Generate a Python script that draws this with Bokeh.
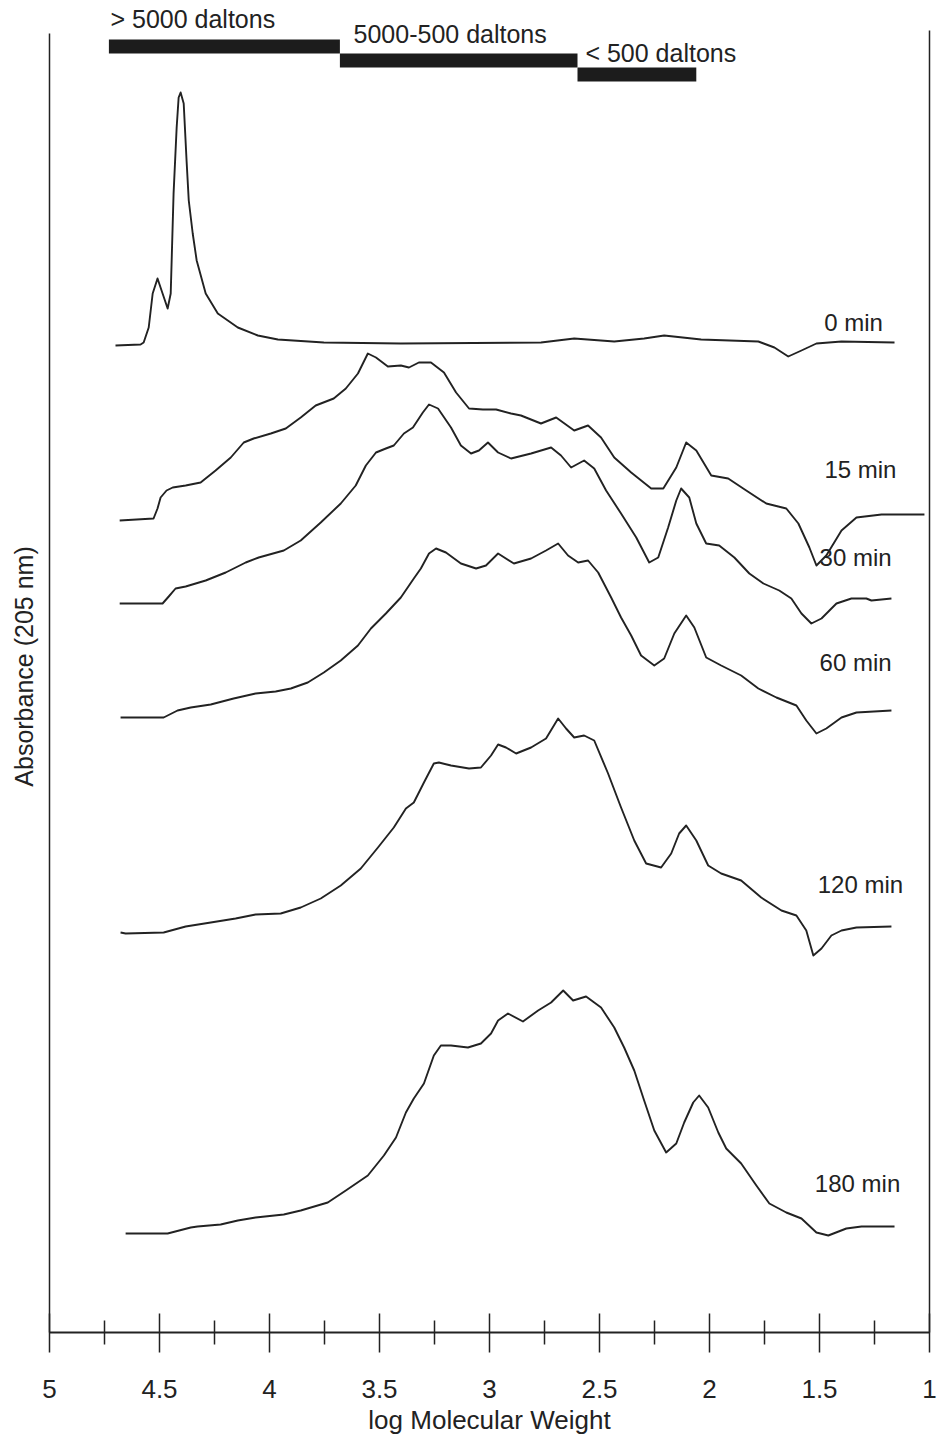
from bokeh.plotting import figure
from bokeh.models import (Range1d, LinearAxis, FixedTicker, CustomJSTickFormatter,
                          Label, ColumnDataSource)
from bokeh.core.properties import value
from bokeh.embed import file_html
from bokeh.resources import INLINE

# ---------------- data ----------------
x_ticks = [5, 4.5, 4, 3.5, 3, 2.5, 2, 1.5, 1]
x_minor_ticks = [4.75, 4.25, 3.75, 3.25, 2.75, 2.25, 1.75, 1.25]

size_classes = ["> 5000 daltons", "5000-500 daltons", "< 500 daltons"]
class_from = [4.73, 3.68, 2.60]
class_to = [3.68, 2.60, 2.06]

times = ["0 min", "15 min", "30 min", "60 min", "120 min", "180 min"]

logmw_0min = [4.700, 4.586, 4.572, 4.549, 4.531, 4.509, 4.486, 4.463, 4.449, 4.436,
              4.422, 4.413, 4.404, 4.390, 4.377, 4.367, 4.349, 4.331, 4.290, 4.235,
              4.144, 4.053, 3.962, 3.753, 3.403, 2.766, 2.615, 2.433, 2.297, 2.206,
              2.038, 1.778, 1.705, 1.642, 1.582, 1.514, 1.400, 1.159]
abs_0min = [-0.01, 0.00, 0.02, 0.17, 0.51, 0.66, 0.51, 0.36, 0.51, 1.51,
            2.17, 2.47, 2.52, 2.41, 1.84, 1.44, 1.11, 0.84, 0.51, 0.31,
            0.17, 0.09, 0.05, 0.02, 0.01, 0.02, 0.06, 0.03, 0.06, 0.09,
            0.05, 0.03, -0.03, -0.12, -0.06, 0.01, 0.03, 0.02]

logmw_15min = [4.681, 4.527, 4.509, 4.495, 4.468, 4.440, 4.381, 4.313, 4.245, 4.176,
               4.117, 4.072, 3.994, 3.926, 3.858, 3.790, 3.708, 3.653, 3.598, 3.553,
               3.516, 3.462, 3.403, 3.366, 3.321, 3.266, 3.207, 3.152, 3.093, 3.030,
               2.970, 2.902, 2.857, 2.766, 2.697, 2.615, 2.552, 2.493, 2.433, 2.356,
               2.265, 2.210, 2.151, 2.106, 2.060, 1.992, 1.915, 1.833, 1.742, 1.651,
               1.596, 1.546, 1.514, 1.469, 1.400, 1.332, 1.218, 1.023]
abs_15min = [0.00, 0.02, 0.12, 0.23, 0.30, 0.33, 0.35, 0.38, 0.50, 0.63,
             0.78, 0.82, 0.87, 0.92, 1.03, 1.15, 1.22, 1.32, 1.47, 1.67,
             1.63, 1.54, 1.55, 1.53, 1.58, 1.58, 1.48, 1.28, 1.12, 1.11,
             1.11, 1.07, 1.05, 0.97, 1.03, 0.90, 0.95, 0.83, 0.63, 0.48,
             0.32, 0.32, 0.53, 0.78, 0.70, 0.45, 0.42, 0.30, 0.17, 0.12,
             -0.03, -0.27, -0.45, -0.35, -0.10, 0.03, 0.06, 0.06]

logmw_30min = [4.681, 4.486, 4.458, 4.427, 4.381, 4.290, 4.199, 4.108, 4.049, 3.935,
               3.858, 3.767, 3.676, 3.608, 3.562, 3.516, 3.471, 3.435, 3.389, 3.348,
               3.303, 3.275, 3.234, 3.175, 3.130, 3.084, 3.048, 3.007, 2.961, 2.902,
               2.811, 2.720, 2.675, 2.629, 2.570, 2.524, 2.470, 2.402, 2.333, 2.274,
               2.233, 2.188, 2.151, 2.129, 2.092, 2.060, 2.015, 1.956, 1.887, 1.819,
               1.755, 1.683, 1.628, 1.582, 1.537, 1.491, 1.423, 1.355, 1.287, 1.264,
               1.218, 1.173]
abs_30min = [0.00, 0.00, 0.07, 0.15, 0.17, 0.23, 0.31, 0.41, 0.46, 0.53,
             0.63, 0.81, 1.00, 1.18, 1.38, 1.51, 1.55, 1.58, 1.70, 1.76,
             1.91, 1.99, 1.95, 1.76, 1.58, 1.50, 1.53, 1.61, 1.51, 1.45,
             1.50, 1.56, 1.48, 1.36, 1.43, 1.35, 1.13, 0.90, 0.66, 0.41,
             0.46, 0.76, 1.03, 1.15, 1.06, 0.80, 0.60, 0.58, 0.46, 0.30,
             0.20, 0.13, 0.05, -0.10, -0.20, -0.15, 0.00, 0.05, 0.05, 0.03,
             0.04, 0.05]

logmw_60min = [4.677, 4.481, 4.418, 4.358, 4.267, 4.163, 4.063, 3.972, 3.903, 3.826,
               3.753, 3.676, 3.598, 3.539, 3.471, 3.403, 3.344, 3.312, 3.275, 3.243,
               3.198, 3.130, 3.061, 3.016, 2.961, 2.889, 2.811, 2.743, 2.688, 2.643,
               2.597, 2.552, 2.506, 2.447, 2.402, 2.356, 2.311, 2.251, 2.206, 2.160,
               2.106, 2.069, 2.015, 1.947, 1.856, 1.778, 1.696, 1.605, 1.560, 1.514,
               1.469, 1.400, 1.332, 1.173]
abs_60min = [0.00, 0.00, 0.07, 0.10, 0.13, 0.19, 0.24, 0.26, 0.29, 0.35,
             0.45, 0.57, 0.72, 0.89, 1.04, 1.20, 1.39, 1.49, 1.64, 1.69,
             1.65, 1.54, 1.49, 1.52, 1.64, 1.54, 1.59, 1.67, 1.74, 1.62,
             1.55, 1.57, 1.45, 1.20, 1.00, 0.82, 0.62, 0.52, 0.59, 0.84,
             1.02, 0.90, 0.60, 0.52, 0.42, 0.29, 0.20, 0.12, -0.03, -0.16,
             -0.11, 0.00, 0.05, 0.07]

logmw_120min = [4.677, 4.654, 4.481, 4.381, 4.267, 4.154, 4.063, 3.949, 3.858, 3.767,
                3.676, 3.585, 3.507, 3.435, 3.380, 3.344, 3.298, 3.253, 3.230, 3.175,
                3.093, 3.039, 2.993, 2.961, 2.925, 2.879, 2.811, 2.743, 2.688, 2.652,
                2.615, 2.570, 2.524, 2.461, 2.402, 2.342, 2.288, 2.220, 2.174, 2.138,
                2.106, 2.060, 2.006, 1.947, 1.856, 1.765, 1.673, 1.605, 1.560, 1.528,
                1.491, 1.446, 1.400, 1.332, 1.173]
abs_120min = [0.00, -0.01, 0.00, 0.06, 0.10, 0.14, 0.18, 0.19, 0.25, 0.34,
              0.47, 0.64, 0.85, 1.05, 1.24, 1.30, 1.50, 1.69, 1.70, 1.67,
              1.64, 1.65, 1.77, 1.88, 1.85, 1.79, 1.85, 1.94, 2.14, 2.04,
              1.95, 1.97, 1.92, 1.59, 1.25, 0.92, 0.69, 0.65, 0.79, 0.99,
              1.07, 0.92, 0.67, 0.59, 0.52, 0.35, 0.22, 0.17, 0.02, -0.23,
              -0.16, -0.03, 0.02, 0.05, 0.06]

logmw_180min = [4.654, 4.463, 4.358, 4.327, 4.222, 4.144, 4.063, 3.935, 3.858, 3.735,
                3.653, 3.553, 3.480, 3.425, 3.380, 3.344, 3.298, 3.253, 3.221, 3.175,
                3.098, 3.039, 2.993, 2.961, 2.916, 2.848, 2.779, 2.720, 2.665, 2.620,
                2.561, 2.493, 2.433, 2.388, 2.342, 2.297, 2.251, 2.197, 2.151, 2.115,
                2.074, 2.047, 2.006, 1.960, 1.924, 1.856, 1.787, 1.728, 1.651, 1.582,
                1.514, 1.460, 1.378, 1.309, 1.159]
abs_180min = [0.01, 0.01, 0.07, 0.08, 0.10, 0.14, 0.17, 0.20, 0.24, 0.32,
              0.44, 0.59, 0.79, 0.97, 1.22, 1.36, 1.51, 1.79, 1.89, 1.89,
              1.87, 1.91, 2.01, 2.14, 2.21, 2.13, 2.24, 2.32, 2.44, 2.34,
              2.38, 2.27, 2.07, 1.87, 1.64, 1.34, 1.04, 0.82, 0.91, 1.12,
              1.32, 1.39, 1.27, 1.02, 0.86, 0.71, 0.49, 0.31, 0.22, 0.16,
              0.02, -0.01, 0.06, 0.08, 0.08]

# ---------------- layout / style ----------------
FONT = "Liberation Sans"
INK = "#222222"
trace_offsets = [9.88, 8.12, 7.29, 6.15, 4.00, 0.98]       # vertical stacking of traces
label_x = [1.345, 1.314, 1.336, 1.336, 1.314, 1.327]
label_y = [10.10, 8.63, 7.75, 6.70, 4.48, 1.49]
bar_bottom = [12.79, 12.65, 12.51]
bar_top = [12.93, 12.79, 12.65]
class_text_x = [4.723, 3.618, 2.564]
class_text_y = [13.14, 12.99, 12.80]

traces = [
    (logmw_0min, abs_0min),
    (logmw_15min, abs_15min),
    (logmw_30min, abs_30min),
    (logmw_60min, abs_60min),
    (logmw_120min, abs_120min),
    (logmw_180min, abs_180min),
]

p = figure(width=937, height=1446,
           x_range=Range1d(5, 1), y_range=Range1d(0, 13.32),
           output_backend="svg", toolbar_location=None,
           min_border_left=49, min_border_right=8,
           min_border_top=0, min_border_bottom=114)
p.outline_line_color = None
p.xgrid.visible = False
p.ygrid.visible = False
p.background_fill_color = "white"
p.border_fill_color = "white"

# bottom axis
xa = p.xaxis[0]
xa.ticker = FixedTicker(ticks=x_ticks, minor_ticks=x_minor_ticks)
xa.formatter = CustomJSTickFormatter(code="return String(tick);")
xa.axis_label = "log Molecular Weight"
xa.axis_label_text_font = FONT
xa.axis_label_text_font_style = "normal"
xa.axis_label_text_font_size = "26px"
xa.axis_label_text_color = INK
xa.axis_label_standoff = 4
xa.major_label_text_font = FONT
xa.major_label_text_font_size = "26px"
xa.major_label_text_color = INK
xa.major_label_standoff = 27
xa.axis_line_color = INK
xa.axis_line_width = 2
xa.major_tick_in = 19
xa.major_tick_out = 20
xa.minor_tick_in = 12
xa.minor_tick_out = 12
xa.major_tick_line_color = INK
xa.minor_tick_line_color = INK
xa.major_tick_line_width = 1.5
xa.minor_tick_line_width = 1.5

# left axis (line + title only)
ya = p.yaxis[0]
ya.ticker = FixedTicker(ticks=[])
ya.bounds = (0, 12.99)
ya.major_label_text_font_size = "0px"
ya.major_tick_out = 0
ya.major_tick_in = 0
ya.minor_tick_out = 0
ya.minor_tick_in = 0
ya.axis_label = "Absorbance (205 nm)"
ya.axis_label_text_font = FONT
ya.axis_label_text_font_style = "normal"
ya.axis_label_text_font_size = "25px"
ya.axis_label_text_color = INK
ya.axis_label_standoff = 12
ya.axis_line_color = INK
ya.axis_line_width = 1.5

# right frame line
ra = LinearAxis(ticker=FixedTicker(ticks=[]), major_label_text_font_size="0px",
                major_tick_out=0, major_tick_in=0, minor_tick_out=0, minor_tick_in=0,
                axis_line_color=INK, axis_line_width=1.5, bounds=(0, 13.02))
p.add_layout(ra, "right")

# chromatogram traces
for (lm, ab), off in zip(traces, trace_offsets):
    src = ColumnDataSource(dict(x=lm, y=[off + a for a in ab]))
    p.line("x", "y", source=src, line_color=INK, line_width=1.9, line_join="round")

# trace labels
p.text(x=label_x, y=label_y, text=times, text_font=value(FONT),
       text_font_size="24px", text_align="center", text_baseline="middle",
       text_color=INK)

# molecular weight class bars
p.quad(left=class_from, right=class_to, bottom=bar_bottom, top=bar_top,
       fill_color="#1c1c1c", line_color=None)
p.text(x=class_text_x, y=class_text_y, text=size_classes, text_font=value(FONT),
       text_font_size="25px", text_align="left", text_baseline="middle",
       text_color=INK)

open("out.html", "w").write(file_html(p, INLINE))
